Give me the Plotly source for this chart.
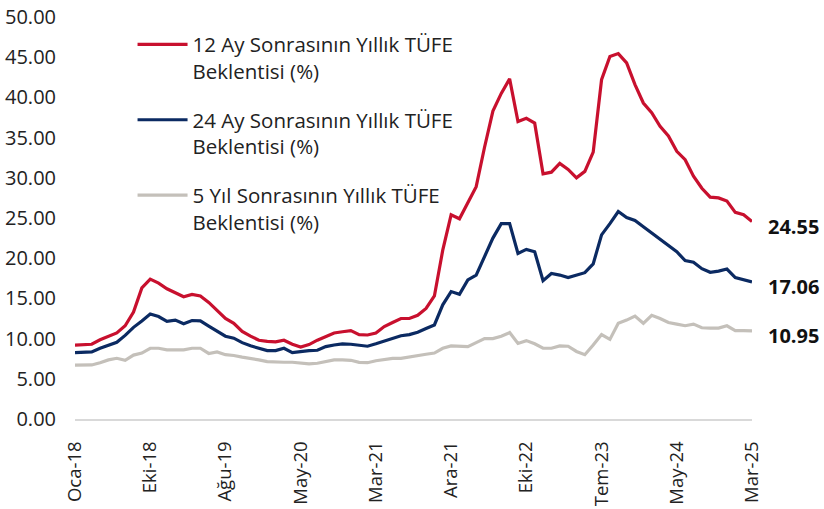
import plotly.graph_objects as go

tick_labels = ["Oca-18", "Eki-18", "Ağu-19", "May-20", "Mar-21",
               "Ara-21", "Eki-22", "Tem-23", "May-24", "Mar-25"]

exp_12m = [9.2, 9.2, 9.3, 9.85, 10.3, 10.7, 11.6, 13.3, 16.3, 17.4,
           16.9, 16.2, 15.7, 15.2, 15.5, 15.3, 14.5, 13.5, 12.5, 11.9,
           10.9, 10.3, 9.8, 9.65, 9.6, 9.8, 9.3, 8.95, 9.25, 9.8,
           10.3, 10.7, 10.85, 11.0, 10.5, 10.45, 10.7, 11.5, 12.0, 12.5,
           12.5, 12.9, 13.75, 15.3, 21.0, 25.4, 24.9, 26.8, 28.9, 33.8,
           38.3, 40.5, 42.3, 37.0, 37.4, 36.8, 30.5, 30.7, 31.8, 31.05,
           30.0, 30.8, 33.2, 42.2, 45.1, 45.45, 44.3, 41.6, 39.3, 38.1,
           36.4, 35.2, 33.3, 32.25, 30.2, 28.7, 27.6, 27.5, 27.1, 25.7,
           25.4, 24.55]

exp_24m = [8.26, 8.26, 8.35, 8.8, 9.15, 9.55, 10.4, 11.4, 12.2, 13.05,
           12.75, 12.15, 12.3, 11.85, 12.25, 12.2, 11.55, 10.9, 10.3, 10.05,
           9.5, 9.1, 8.75, 8.5, 8.5, 8.8, 8.25, 8.4, 8.5, 8.55,
           9.0, 9.2, 9.35, 9.3, 9.2, 9.05, 9.35, 9.7, 10.1, 10.35,
           10.5, 10.8, 11.25, 11.7, 14.2, 15.85, 15.5, 17.3, 17.9, 20.1,
           22.5, 24.3, 24.3, 20.6, 21.1, 20.8, 17.2, 18.1, 17.9, 17.6,
           17.9, 18.2, 19.3, 22.9, 24.3, 25.8, 25.05, 24.7, 23.9, 23.1,
           22.4, 21.6, 20.8, 19.7, 19.5, 18.7, 18.25, 18.4, 18.65, 17.6,
           17.35, 17.06]

exp_5y = [6.7, 6.7, 6.72, 7.0, 7.35, 7.55, 7.3, 7.95, 8.2, 8.8,
          8.8, 8.6, 8.6, 8.6, 8.8, 8.8, 8.15, 8.35, 8.0, 7.9,
          7.7, 7.55, 7.35, 7.14, 7.06, 7.06, 7.06, 6.93, 6.85, 6.93,
          7.14, 7.35, 7.35, 7.3, 7.05, 7.0, 7.25, 7.4, 7.55, 7.55,
          7.75, 7.85, 8.05, 8.2, 8.8, 9.1, 9.0, 9.0, 9.5, 10.0,
          10.0, 10.3, 10.75, 9.4, 9.75, 9.35, 8.8, 8.8, 9.1, 9.05,
          8.4, 8.0, 9.2, 10.5, 9.9, 11.9, 12.3, 12.8, 11.9, 12.9,
          12.5, 12.0, 11.8, 11.6, 11.8, 11.35, 11.3, 11.3, 11.6, 11.0,
          11.0, 10.95]

series_names = ["12 Ay Sonrasının Yıllık TÜFE<br>Beklentisi (%)",
                "24 Ay Sonrasının Yıllık TÜFE<br>Beklentisi (%)",
                "5 Yıl Sonrasının Yıllık TÜFE<br>Beklentisi (%)"]
colors = ["#C8102E", "#0B2A62", "#C4C0BA"]

n = len(exp_12m)
xs = list(range(n))
tick_step = 9
tick_positions = list(range(0, n, tick_step))

FONT = "Open Sans"
fig = go.Figure()
for name, vals, col, grp in zip(series_names, [exp_12m, exp_24m, exp_5y], colors, ["a", "b", "c"]):
    fig.add_trace(go.Scatter(x=xs, y=vals, mode="lines", name=name,
                             legendgroup=grp,
                             line=dict(color=col, width=3.2),
                             hoverinfo="skip"))
    fig.add_annotation(x=xs[-1], y=vals[-1], text=f"<b>{vals[-1]:.2f}</b>",
                       showarrow=False, xanchor="left", yanchor="middle",
                       xshift=14, yshift=-5,
                       font=dict(family=FONT, size=20, color="#111111"))

fig.update_layout(
    width=824, height=509,
    margin=dict(l=75, r=72, t=17, b=90, autoexpand=False),
    paper_bgcolor="white", plot_bgcolor="white",
    font=dict(family=FONT, size=20, color="#222222"),
    showlegend=True,
    legend=dict(x=0.085, y=0.981, xanchor="left", yanchor="top",
                font=dict(family=FONT, size=20.5, color="#222222"),
                bgcolor="rgba(0,0,0,0)", valign="top", itemwidth=50,
                traceorder="grouped", tracegroupgap=19),
    xaxis=dict(range=[0, n - 1], tickmode="array", tickvals=tick_positions,
               ticktext=tick_labels, tickangle=-90, showgrid=False,
               zeroline=False, showline=True, linecolor="#D9D9D9",
               linewidth=2, ticks="", ticklabelstandoff=13, automargin=False,
               tickfont=dict(family=FONT, size=18.5, color="#222222")),
    yaxis=dict(range=[0, 50], tickmode="array",
               tickvals=[0, 5, 10, 15, 20, 25, 30, 35, 40, 45, 50],
               tickformat=".2f", showgrid=False, zeroline=False,
               showline=False, ticks="", ticklabelstandoff=18, automargin=False,
               tickfont=dict(family=FONT, size=20, color="#222222")),
)

fig.write_html("out.html", config={"displayModeBar": False},
               post_script="document.body.style.margin='0';document.body.style.padding='0';")
